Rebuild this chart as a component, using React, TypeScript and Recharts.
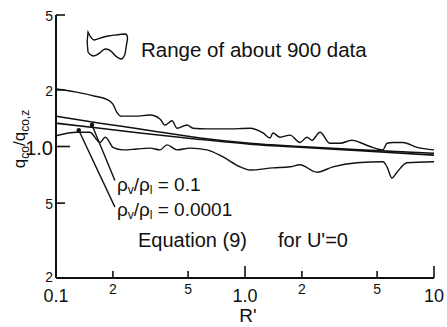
import React from "react";
import {
  LineChart,
  Line,
  XAxis,
  YAxis,
  ReferenceLine,
  ReferenceDot,
  Legend,
} from "recharts";

// ---- data ----
const UPPER_X = [0.1, 0.126, 0.161, 0.188, 0.2, 0.21, 0.221, 0.262, 0.314, 0.355, 0.377, 0.411, 0.437, 0.493, 0.531, 0.629, 0.803, 1.063, 1.245, 1.356, 1.406, 1.532, 1.73, 1.954, 2.128, 2.261, 2.493, 2.818, 3.184, 3.683, 4.057, 4.585, 5.37, 5.64, 6.07, 6.86, 8.13, 10];
const UPPER_Y = [2.02, 1.95, 1.85, 1.77, 1.68, 1.52, 1.45, 1.45, 1.47, 1.4, 1.3, 1.37, 1.25, 1.3, 1.25, 1.24, 1.24, 1.25, 1.18, 1.11, 1.18, 1.12, 1.15, 1.05, 1.12, 1.08, 1.19, 1.04, 1.04, 1.08, 1.05, 1.0, 0.96, 1.04, 1.05, 1.05, 0.99, 0.96];

const LOWER_X = [0.1, 0.129, 0.151, 0.171, 0.182, 0.188, 0.2, 0.226, 0.268, 0.314, 0.355, 0.387, 0.437, 0.512, 0.629, 0.765, 0.941, 1.063, 1.406, 1.73, 1.954, 2.404, 2.921, 3.915, 5.37, 5.64, 5.99, 6.37, 7.19, 10];
const LOWER_Y = [1.14, 1.19, 1.19, 1.05, 1.12, 1.09, 0.99, 0.96, 0.97, 0.98, 0.96, 1.02, 0.96, 0.98, 0.96, 0.88, 0.78, 0.75, 0.77, 0.78, 0.8, 0.73, 0.78, 0.82, 0.83, 0.78, 0.68, 0.73, 0.82, 0.83];

const EQ_X = [0.1, 0.171, 0.278, 0.579, 1.063, 1.954, 4.057, 10];
const EQ_01_Y = [1.45, 1.33, 1.24, 1.11, 1.04, 1.0, 0.96, 0.92];
const EQ_00001_Y = [1.33, 1.25, 1.18, 1.09, 1.03, 0.99, 0.95, 0.9];

const X_TICKS = [0.1, 0.2, 0.5, 1, 2, 5, 10];
const X_TICK_LABELS = ["0.1", "2", "5", "1.0", "2", "5", "10"];
const X_MAJOR = [0.1, 1, 10];
const TOP_TICKS = [0.2, 0.5, 1, 2, 5];

const Y_TICKS = [0.2, 0.5, 1, 2, 5];
const Y_TICK_LABELS = ["2", "5", "1.0", "2", "5"];
const Y_MAJOR = [1];
const RIGHT_TICKS = [0.5, 1, 2];

// annotation anchors (data coordinates)
const LEADER_01 = [{ x: 0.155, y: 1.3 }, { x: 0.205, y: 0.66 }];
const LEADER_00001 = [{ x: 0.132, y: 1.22 }, { x: 0.205, y: 0.476 }];
const LABEL_01_AT = { x: 0.21, y: 0.58 };
const LABEL_00001_AT = { x: 0.21, y: 0.427 };
const EQ_TEXT_AT = { x: 0.2716, y: 0.292 };
const FOR_TEXT_AT = { x: 1.495, y: 0.292 };

const upper = UPPER_X.map((x, i) => ({ x, y: UPPER_Y[i] }));
const lower = LOWER_X.map((x, i) => ({ x, y: LOWER_Y[i] }));
const eq01 = EQ_X.map((x, i) => ({ x, y: EQ_01_Y[i] }));
const eq00001 = EQ_X.map((x, i) => ({ x, y: EQ_00001_Y[i] }));

const FONT = "'Liberation Sans', Arial, sans-serif";
const INK = "#111";

const XBottomTick = (props: any) => {
  const { x, y, payload } = props;
  const v = payload.value;
  const idx = X_TICKS.indexOf(v);
  const major = X_MAJOR.includes(v);
  return (
    <g>
      <line x1={x} y1={y} x2={x} y2={y - (major ? 12 : 7)} stroke={INK} strokeWidth={1.6} />
      <text
        x={x}
        y={y + (major ? 24 : 16)}
        textAnchor="middle"
        fontFamily={FONT}
        fontSize={major ? 18 : 14}
        fill={INK}
      >
        {X_TICK_LABELS[idx]}
      </text>
    </g>
  );
};

const XTopTick = (props: any) => {
  const { x, y } = props;
  return <line x1={x} y1={y} x2={x} y2={y + 5} stroke={INK} strokeWidth={1.4} />;
};

const YLeftTick = (props: any) => {
  const { x, y, payload } = props;
  const v = payload.value;
  const idx = Y_TICKS.indexOf(v);
  const major = Y_MAJOR.includes(v);
  const fs = major ? 20 : 14;
  const lift = idx === 0 ? 2 : 0;
  return (
    <g>
      <line x1={x} y1={y} x2={x + (major ? 14 : 9)} y2={y} stroke={INK} strokeWidth={1.6} />
      <text
        x={x - 3}
        y={y + fs * 0.36 + 1 - lift}
        textAnchor="end"
        fontFamily={FONT}
        fontSize={fs}
        fill={INK}
      >
        {Y_TICK_LABELS[idx]}
      </text>
    </g>
  );
};

const YRightTick = (props: any) => {
  const { x, y } = props;
  return <line x1={x} y1={y} x2={x - 5} y2={y} stroke={INK} strokeWidth={1.4} />;
};

const YLabel = (props: any) => {
  const vb = props.viewBox || { x: 0, y: 15 };
  const cx = vb.x + 25;
  const cy = vb.y + 124;
  return (
    <text
      x={cx}
      y={cy}
      transform={`rotate(-90, ${cx}, ${cy})`}
      textAnchor="middle"
      fontFamily={FONT}
      fontSize={17}
      fill={INK}
    >
      <tspan>q</tspan>
      <tspan fontSize={12} dy={4}>co</tspan>
      <tspan dy={-4}>/q</tspan>
      <tspan fontSize={12} dy={4}>co,z</tspan>
    </text>
  );
};

const XLabel = (props: any) => {
  const vb = props.viewBox || { x: 56, y: 278 };
  return (
    <text
      x={vb.x + 192}
      y={vb.y + 44}
      textAnchor="middle"
      fontFamily={FONT}
      fontSize={19}
      fill={INK}
    >
      R'
    </text>
  );
};

const RhoLabel = (value: string) => (props: any) => {
  const vb = props.viewBox || { x: 0, y: 0 };
  return (
    <text x={vb.x} y={vb.y} fontFamily={FONT} fontSize={19} fill={INK}>
      <tspan>ρ</tspan>
      <tspan fontSize={12} dy={3}>v</tspan>
      <tspan dy={-3}>/ρ</tspan>
      <tspan fontSize={12} dy={3}>l</tspan>
      <tspan dy={-3}>{" = " + value}</tspan>
    </text>
  );
};

const PlainLabel = (value: string) => (props: any) => {
  const vb = props.viewBox || { x: 0, y: 0 };
  return (
    <text x={vb.x} y={vb.y} fontFamily={FONT} fontSize={20} fill={INK}>
      {value}
    </text>
  );
};

const LegendContent = () => (
  <svg width={300} height={34} style={{ overflow: "visible" }}>
    <path
      d="M2,2 C4,6 5,9 8,10 C12,9 16,7 22,6 C30,5 35,4 40,4 C42,6 42,8 41,12 C40,16 40,20 39,24 C38,27 37,29 35,29 C31,28 29,26 26,22 C23,19 20,18 17,20 C14,23 11,26 7,26 C4,25 3,24 2,22 C1,16 1,8 2,2 Z"
      fill="none"
      stroke={INK}
      strokeWidth={1.4}
    />
    <text x={55} y={27} fontFamily={FONT} fontSize={20.5} fill={INK}>
      Range of about 900 data
    </text>
  </svg>
);

export default function App() {
  return (
    <div style={{ position: "absolute", left: 0, top: 0, width: 447, height: 327, background: "#fff" }}>
      <LineChart width={447} height={327} margin={{ top: 15, right: 13, left: 0, bottom: 0 }}>
        <XAxis
          dataKey="x"
          type="number"
          scale="log"
          domain={[0.1, 10]}
          allowDataOverflow
          ticks={X_TICKS}
          tick={<XBottomTick />}
          tickLine={false}
          tickSize={0}
          tickMargin={0}
          height={49}
          axisLine={{ stroke: INK, strokeWidth: 2 }}
          interval={0}
          label={{ content: XLabel }}
        />
        <XAxis
          xAxisId="top"
          orientation="top"
          dataKey="x"
          type="number"
          scale="log"
          domain={[0.1, 10]}
          allowDataOverflow
          ticks={TOP_TICKS}
          tick={<XTopTick />}
          tickLine={false}
          tickSize={0}
          tickMargin={0}
          height={0}
          interval={0}
          axisLine={{ stroke: INK, strokeWidth: 2 }}
        />
        <YAxis
          dataKey="y"
          type="number"
          scale="log"
          domain={[0.2, 5]}
          allowDataOverflow
          ticks={Y_TICKS}
          tick={<YLeftTick />}
          tickLine={false}
          tickSize={0}
          tickMargin={0}
          width={56}
          interval={0}
          axisLine={{ stroke: INK, strokeWidth: 2 }}
          label={{ content: YLabel }}
        />
        <YAxis
          yAxisId="right"
          orientation="right"
          dataKey="y"
          type="number"
          scale="log"
          domain={[0.2, 5]}
          allowDataOverflow
          ticks={RIGHT_TICKS}
          tick={<YRightTick />}
          tickLine={false}
          tickSize={0}
          tickMargin={0}
          width={0}
          interval={0}
          axisLine={{ stroke: INK, strokeWidth: 2 }}
        />
        <Legend
          layout="vertical"
          align="center"
          verticalAlign="middle"
          wrapperStyle={{ position: "absolute", left: 86, top: 30, width: 300, height: 34 }}
          content={() => <LegendContent />}
        />
        <Line data={upper} dataKey="y" type="monotoneX" stroke={INK} strokeWidth={1.4} dot={false} isAnimationActive={false} />
        <Line data={lower} dataKey="y" type="monotoneX" stroke={INK} strokeWidth={1.4} dot={false} isAnimationActive={false} />
        <Line data={eq01} dataKey="y" type="monotoneX" stroke={INK} strokeWidth={1.6} dot={false} isAnimationActive={false} />
        <Line data={eq00001} dataKey="y" type="monotoneX" stroke={INK} strokeWidth={1.6} dot={false} isAnimationActive={false} />
        <ReferenceLine segment={LEADER_01} stroke={INK} strokeWidth={1.4} />
        <ReferenceLine segment={LEADER_00001} stroke={INK} strokeWidth={1.4} />
        <ReferenceDot x={LEADER_01[0].x} y={LEADER_01[0].y} r={2.2} fill={INK} stroke="none" />
        <ReferenceDot x={LEADER_00001[0].x} y={LEADER_00001[0].y} r={2.2} fill={INK} stroke="none" />
        <ReferenceDot x={LABEL_01_AT.x} y={LABEL_01_AT.y} r={0} fill="none" stroke="none" label={{ content: RhoLabel("0.1") }} />
        <ReferenceDot x={LABEL_00001_AT.x} y={LABEL_00001_AT.y} r={0} fill="none" stroke="none" label={{ content: RhoLabel("0.0001") }} />
        <ReferenceDot x={EQ_TEXT_AT.x} y={EQ_TEXT_AT.y} r={0} fill="none" stroke="none" label={{ content: PlainLabel("Equation (9)") }} />
        <ReferenceDot x={FOR_TEXT_AT.x} y={FOR_TEXT_AT.y} r={0} fill="none" stroke="none" label={{ content: PlainLabel("for U'=0") }} />
      </LineChart>
    </div>
  );
}
